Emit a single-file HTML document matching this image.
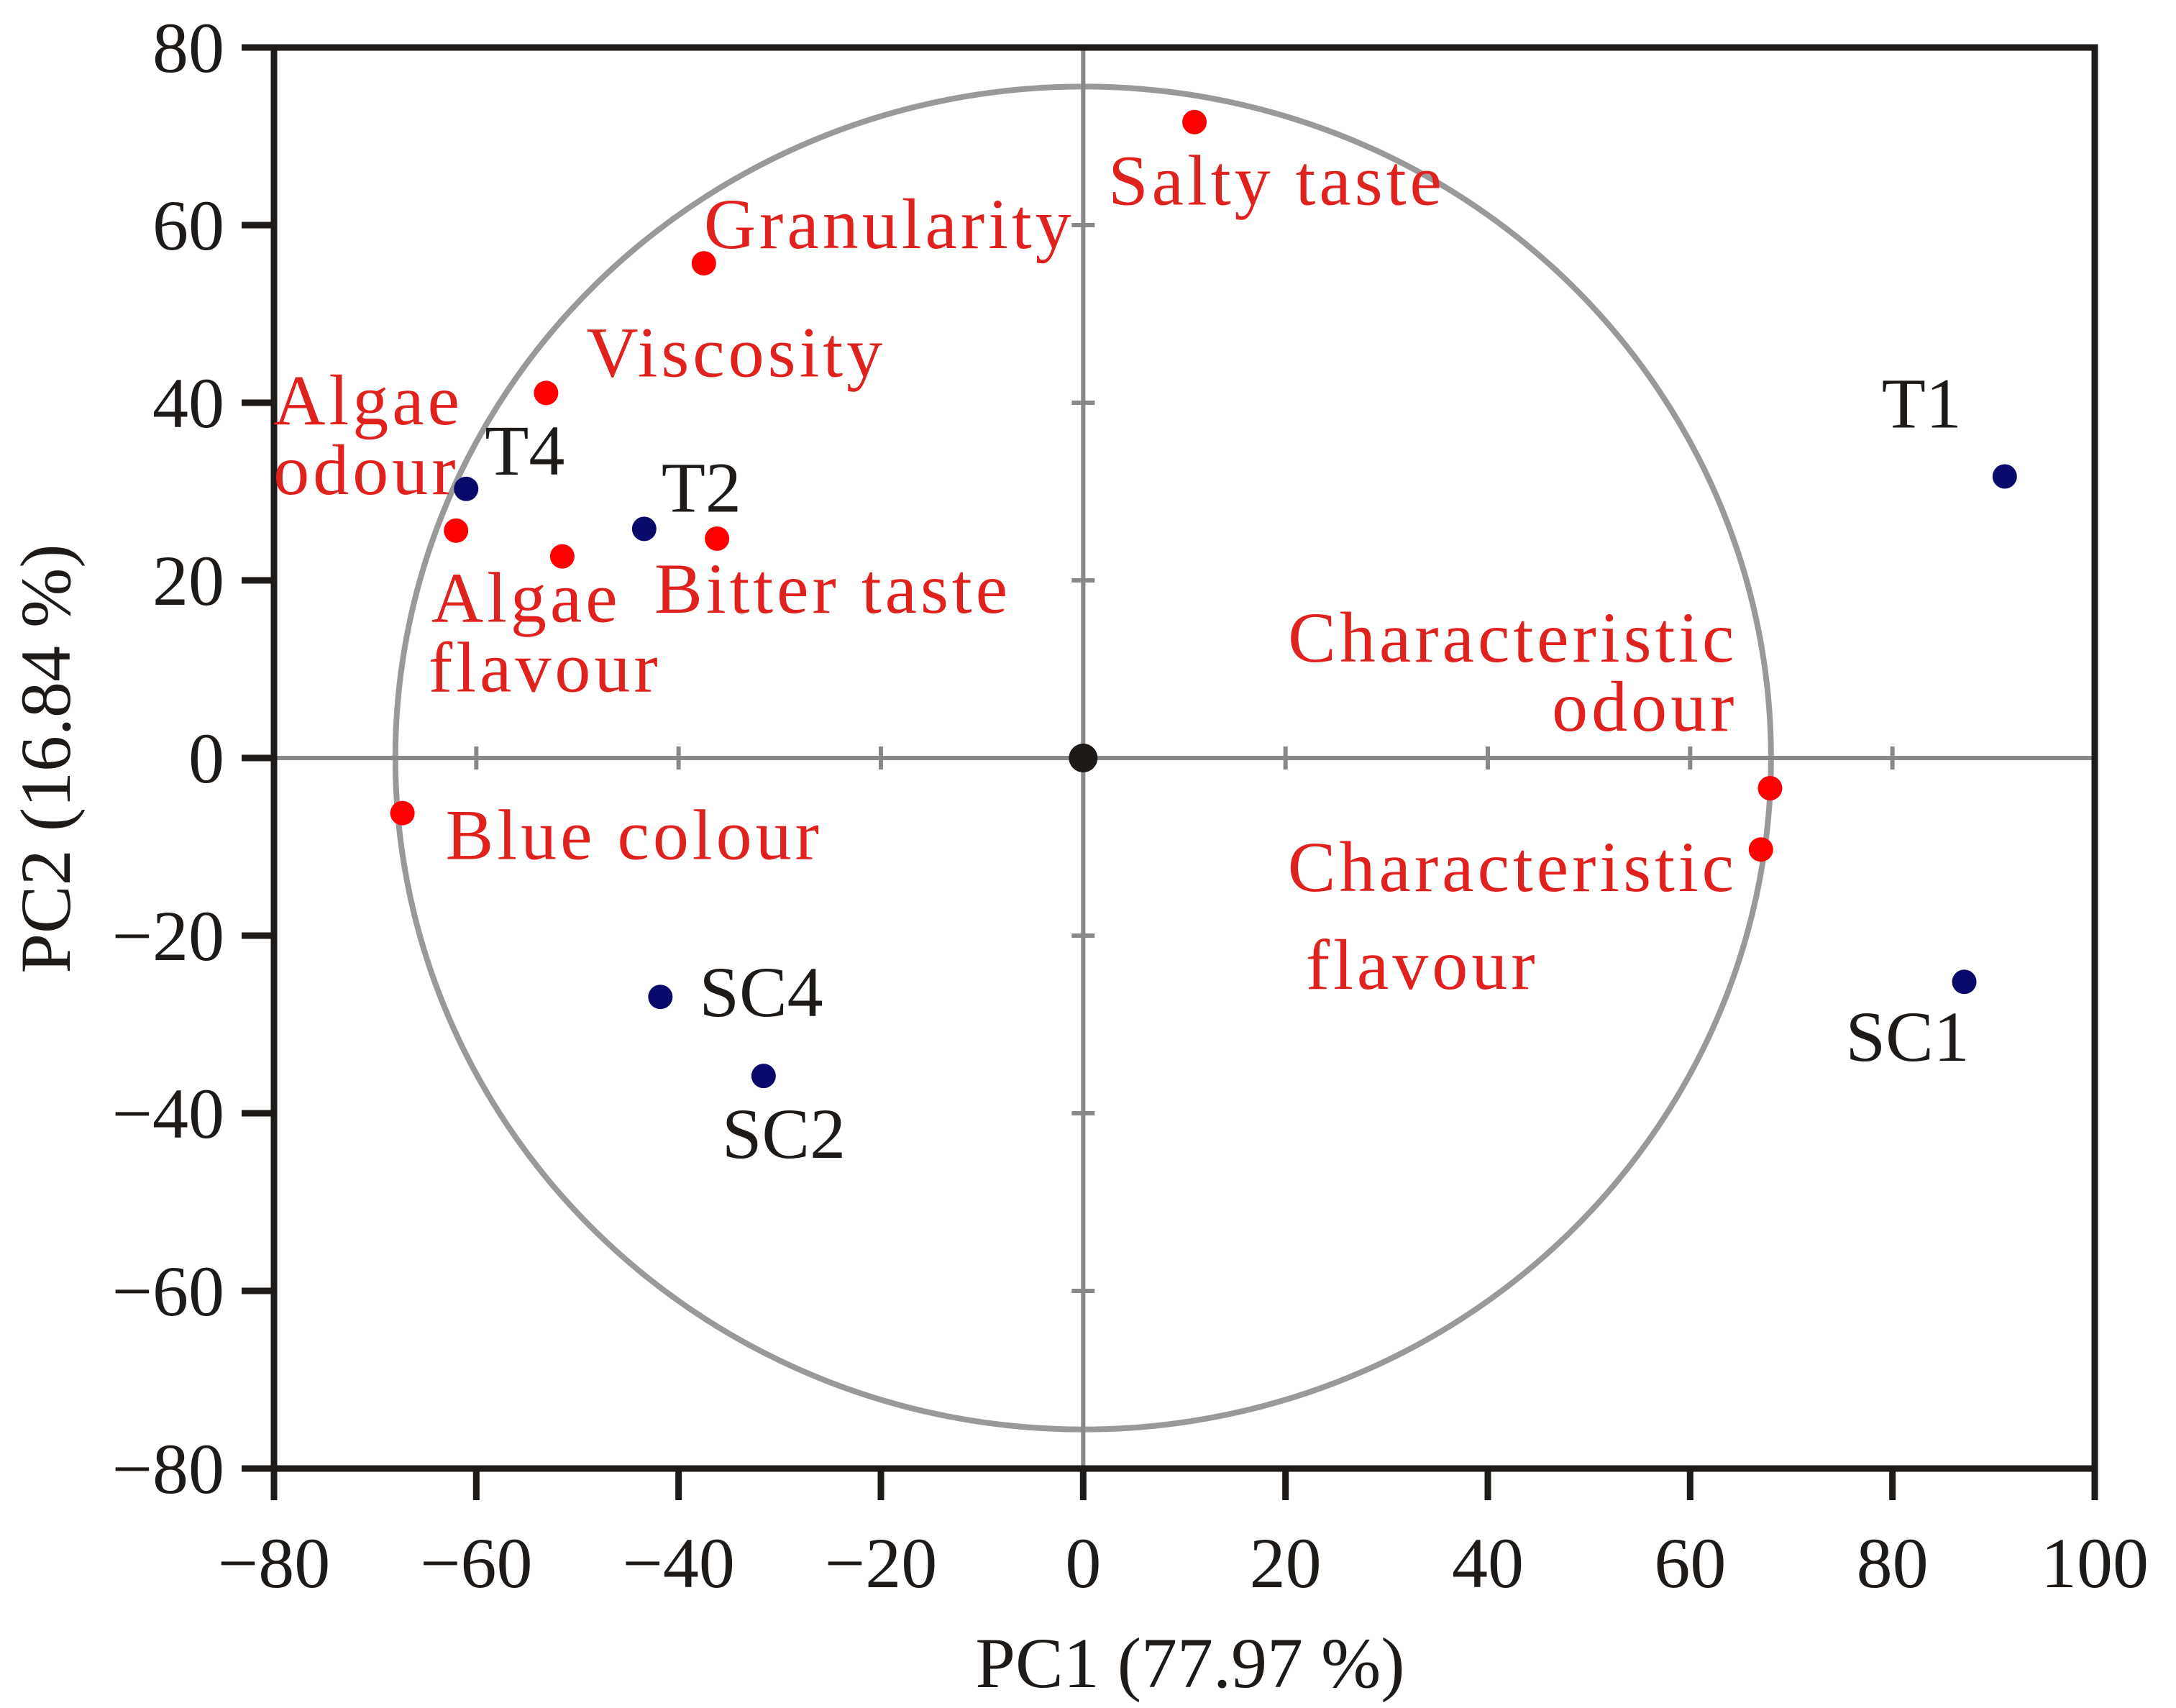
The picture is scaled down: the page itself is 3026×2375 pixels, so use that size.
<!DOCTYPE html>
<html><head><meta charset="utf-8"><style>
html,body{margin:0;padding:0;background:#fff}
svg{display:block}
text{font-family:"Liberation Serif",serif}
</style></head><body>
<svg id="c" width="3026" height="2375" viewBox="0 0 3026 2375"></svg>
<script>
const xTicks=[-80,-60,-40,-20,0,20,40,60,80,100];
const yTicks=[-80,-60,-40,-20,0,20,40,60,80];
const attrNames=["Salty taste","Granularity","Viscosity","Algae odour","Algae flavour","Bitter taste","Blue colour","Characteristic odour","Characteristic flavour"];
const attrX=[11.0,-37.5,-53.1,-62.0,-51.5,-36.2,-67.3,67.9,67.0];
const attrY=[71.6,55.7,41.1,25.6,22.7,24.7,-6.2,-3.4,-10.3];
const sampleNames=["T1","T4","T2","SC4","SC2","SC1"];
const sampleX=[91.1,-61.0,-43.4,-41.8,-31.6,87.1];
const sampleY=[31.7,30.3,25.8,-26.9,-35.8,-25.2];
const circleRx=68,circleRy=75.6;
const X0=381,X1=2913,Y0=2042,Y1=66;
const sx=v=>X0+(v+80)/180*(X1-X0);
const sy=v=>Y0-(v+80)/160*(Y0-Y1);
const NS="http://www.w3.org/2000/svg";
const svg=document.getElementById('c');
function mk(tag,at,parent){const e=document.createElementNS(NS,tag);for(const k in at)e.setAttribute(k,at[k]);(parent||svg).appendChild(e);return e;}
const attrLab=[
 [[-120,115,"Salty taste","start"]],
 [[0,-21,"Granularity","start"]],
 [[56,-23,"Viscosity","start"]],
 [[-254,-148,"Algae","start"],[-254,-51,"odour","start"]],
 [[-182,91,"Algae","start"],[-186,188,"flavour","start"]],
 [[-87,103,"Bitter taste","start"]],
 [[60,64,"Blue colour","start"]],
 [[-45,-176,"Characteristic","end"],[-45,-80,"odour","end"]],
 [[-658,58,"Characteristic","start"],[-633,194,"flavour","start"]]
];
const sampLab=[[-171,-68],[26,-20],[24,-24],[54,27],[-58,114],[-165,110]];
const el=mk('ellipse',{cx:sx(0),cy:sy(0),rx:sx(circleRx)-sx(0),ry:sy(0)-sy(circleRy),fill:'none',stroke:'#999',"stroke-width":8});


const vl=mk('line',{x1:sx(0),y1:Y1,x2:sx(0),y2:Y0,stroke:'#888',"stroke-width":6});


const hl=mk('line',{x1:X0,y1:sy(0),x2:X1,y2:sy(0),stroke:'#888',"stroke-width":6});


xTicks.forEach(v=>{if(v>-80&&v<100&&v!==0){const t=mk('line',{x1:sx(v),y1:sy(0)-16,x2:sx(v),y2:sy(0)+16,stroke:'#888',"stroke-width":6});

}});
yTicks.forEach(v=>{if(v>-80&&v<80&&v!==0){const t=mk('line',{x1:sx(0)-16,y1:sy(v),x2:sx(0)+16,y2:sy(v),stroke:'#888',"stroke-width":6});

}});
const fr=mk('rect',{x:X0,y:Y1,width:X1-X0,height:Y0-Y1,fill:'none',stroke:'#1e1a17',"stroke-width":9});


xTicks.forEach(v=>{const t=mk('line',{x1:sx(v),y1:Y0,x2:sx(v),y2:Y0+44,stroke:'#1e1a17',"stroke-width":9});


const l=mk('text',{x:sx(v),y:2207,"text-anchor":"middle","font-size":100,fill:'#1e1a17'});l.textContent=(v<0?'\u2212'+(-v):v);

});
yTicks.forEach(v=>{const t=mk('line',{x1:X0-45,y1:sy(v),x2:X0,y2:sy(v),stroke:'#1e1a17',"stroke-width":9});


const l=mk('text',{x:312,y:sy(v)+34,"text-anchor":"end","font-size":100,fill:'#1e1a17'});l.textContent=(v<0?'\u2212'+(-v):v);

});
attrNames.forEach((n,i)=>{const px=sx(attrX[i]),py=sy(attrY[i]);
const c=mk('circle',{cx:px,cy:py,r:17,fill:'#ff0000'});


attrLab[i].forEach(L=>{const t=mk('text',{x:px+L[0],y:py+L[1],"text-anchor":L[3],"font-size":100,fill:'#e0221e',"letter-spacing":"5"});t.textContent=L[2];

});});
sampleNames.forEach((n,i)=>{const px=sx(sampleX[i]),py=sy(sampleY[i]);
const c=mk('circle',{cx:px,cy:py,r:17,fill:'#0a0a6b'});


const t=mk('text',{x:px+sampLab[i][0],y:py+sampLab[i][1],"font-size":100,fill:'#1e1a17'});t.textContent=n;

});
const o=mk('circle',{cx:sx(0),cy:sy(0),r:20,fill:'#1e1a17'});


const xt=mk('text',{x:1655,y:2346,"text-anchor":"middle","font-size":100,fill:'#1e1a17'});xt.textContent='PC1 (77.97 %)';


const yt=mk('text',{x:0,y:0,"text-anchor":"middle","font-size":100,fill:'#1e1a17',transform:'translate(97,1055) rotate(-90)'});yt.textContent='PC2 (16.84 %)';


</script>
</body></html>
